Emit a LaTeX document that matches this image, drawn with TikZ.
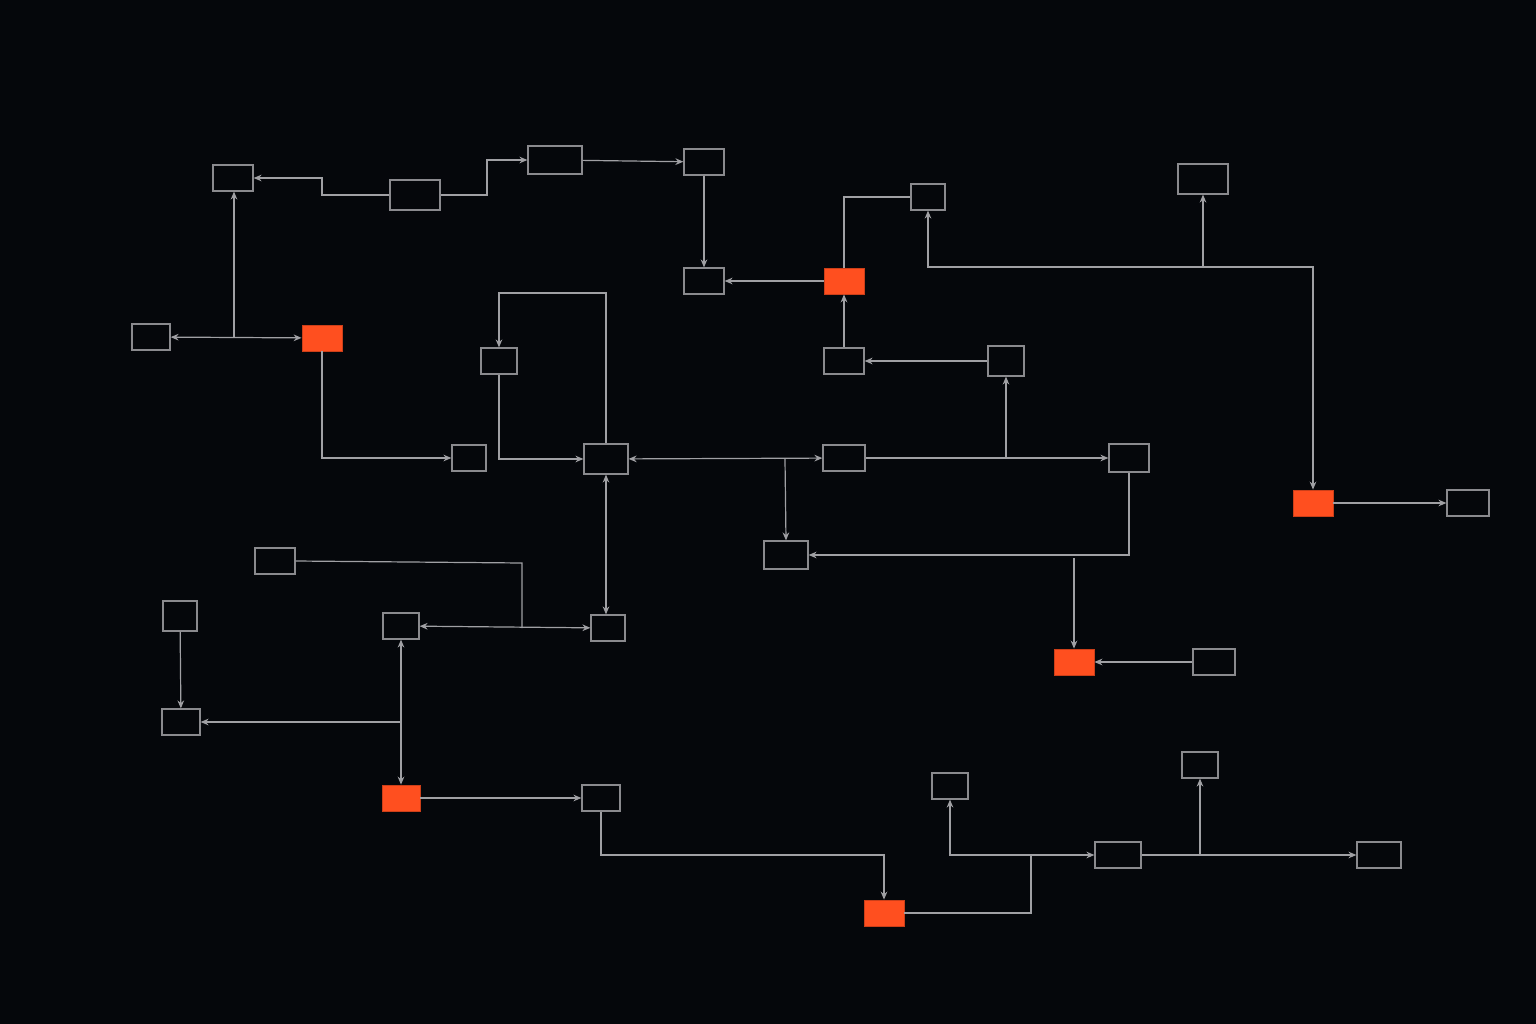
\documentclass[tikz,border=0pt]{standalone}
\usetikzlibrary{arrows.meta}
\definecolor{bgdark}{HTML}{05070B}
\definecolor{wire}{HTML}{A0A0A4}
\definecolor{frame}{HTML}{8A8A8E}
\definecolor{hot}{HTML}{FF4F1F}
\tikzset{
  box/.style={draw=frame,line width=0.9pt,fill=bgdark,inner sep=0pt},
  hotbox/.style={draw=hot!80!black,line width=0.6pt,fill=hot,inner sep=0pt},
  link/.style={draw=wire,line width=0.9pt},
  arr/.style={link,-{Stealth[length=6pt,width=5pt]}},
  darr/.style={link,{Stealth[length=6pt,width=5pt]}-{Stealth[length=6pt,width=5pt]}}
}
% box at pixel centre: name, x, y, width, height
\newcommand{\pbox}[6][box]{\node[#1,minimum width=#5*0.75pt,minimum height=#6*0.75pt] (#2) at (#3,#4) {};}
\begin{document}
\begin{tikzpicture}[x=0.75pt,y=-0.75pt]
  \fill[bgdark] (0,0) rectangle (1536,1024);
  \useasboundingbox (0,0) rectangle (1536,1024);

  % top row
  \pbox{topA}{233}{178}{40}{26}
  \pbox{topB}{415}{195}{50}{30}
  \pbox{topC}{555}{160}{54}{28}
  \pbox{topD}{704}{162}{40}{26}
  \pbox{midE}{704}{281}{40}{26}
  \pbox[hotbox]{hotF}{844}{281}{40}{26}
  \pbox{topG}{928}{197}{34}{26}
  \pbox{topH}{1203}{179}{50}{30}
  % left and centre
  \pbox{leftI}{151}{337}{38}{26}
  \pbox[hotbox]{hotJ}{322}{338}{40}{26}
  \pbox{midK}{499}{361}{36}{26}
  \pbox{midL}{844}{361}{40}{26}
  \pbox{midM}{1006}{361}{36}{30}
  \pbox{midN}{469}{458}{34}{26}
  \pbox{hubO}{606}{459}{44}{30}
  \pbox{midP}{844}{458}{42}{26}
  \pbox{midQ}{1129}{458}{40}{28}
  \pbox[hotbox]{hotR}{1313}{503}{40}{26}
  \pbox{rightS}{1468}{503}{42}{26}
  \pbox{midT}{786}{555}{44}{28}
  % lower half
  \pbox{lowU}{275}{561}{40}{26}
  \pbox{lowV}{180}{616}{34}{30}
  \pbox{lowW}{401}{626}{36}{26}
  \pbox{lowX}{608}{628}{34}{26}
  \pbox[hotbox]{hotY}{1074}{662}{40}{26}
  \pbox{lowZ}{1214}{662}{42}{26}
  \pbox{lowAA}{181}{722}{38}{26}
  \pbox[hotbox]{hotAB}{401}{798}{38}{26}
  \pbox{lowAC}{601}{798}{38}{26}
  \pbox{lowAD}{950}{786}{36}{26}
  \pbox{lowAE}{1200}{765}{36}{26}
  \pbox{lowAF}{1118}{855}{46}{26}
  \pbox{lowAG}{1379}{855}{44}{26}
  \pbox[hotbox]{hotAH}{884}{913}{40}{26}

  % junction points
  \coordinate (jTop) at (1203,267);
  \coordinate (jJ) at (234,338);
  \coordinate (jO) at (785,459);
  \coordinate (jP) at (1006,458);
  \coordinate (jQ) at (1074,558);
  \coordinate (jU) at (522,628);
  \coordinate (jW) at (401,722);
  \coordinate (jAH) at (1031,855);
  \coordinate (jAF) at (1200,855);

  % top wiring
  \draw[arr] (topB.west) -- (322,195) |- (topA.east);
  \draw[arr] (topB.east) -- (487,195) |- (topC.west);
  \draw[arr] (topC) -- (topD);
  \draw[arr] (topD) -- (midE);
  \draw[arr] (hotF) -- (midE);
  \draw[link] (hotF.north) |- (topG.west);
  \draw[arr,draw=frame!80] (midL) -- (hotF);
  \draw[arr] (midM) -- (midL);
  \draw[arr] (jTop) -| (topG.south);
  \draw[arr] (jTop) -- (topH.south);
  \draw[arr] (jTop) -| (hotR.north);

  % left and centre wiring
  \draw[darr] (leftI) -- (hotJ);
  \draw[arr] (jJ) -- (jJ |- topA.south);
  \draw[arr,draw=frame!80] (hotJ.south) |- (midN.west);
  \draw[arr] (hubO.north) -- (606,293) -| (midK.north);
  \draw[arr] (midK.south) |- (hubO.west);
  \draw[darr] (hubO) -- (midP);
  \draw[arr] (jO) -- (midT.north);
  \draw[arr] (midP) -- (midQ);
  \draw[arr] (jP) -- (midM.south);
  \draw[arr] (midQ.south) |- (midT.east);
  \draw[arr] (jQ) -- (hotY.north);
  \draw[arr] (lowZ) -- (hotY);
  \draw[arr] (hotR) -- (rightS);
  \draw[darr] (hubO.south) -- (hubO.south |- lowX.north);

  % lower wiring
  \draw[link] (lowU.east) -- (522,563) -- (jU);
  \draw[darr] (lowW) -- (lowX);
  \draw[arr] (lowV) -- (lowAA);
  \draw[darr] (lowW) -- (hotAB);
  \draw[arr] (jW) -- (lowAA.east);
  \draw[arr] (hotAB) -- (lowAC);
  \draw[arr] (lowAC.south) -- (601,855) -| (hotAH.north);
  \draw[link] (hotAH.east) -| (jAH);
  \draw[arr] (jAH) -| (lowAD.south);
  \draw[arr] (jAH) -- (lowAF.west);
  \draw[arr] (lowAF) -- (lowAG);
  \draw[arr] (jAF) -- (lowAE.south);
\end{tikzpicture}
\end{document}
